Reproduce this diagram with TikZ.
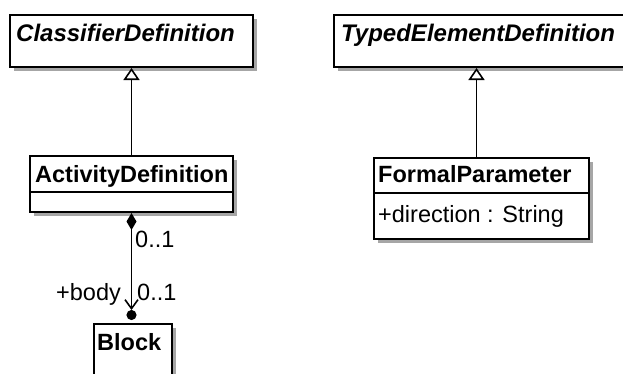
\documentclass[tikz,border=0pt]{standalone}
\usepackage{fontspec}
\setmainfont{Liberation Sans}
\usetikzlibrary{arrows.meta,shadows}
\tikzset{
  classbox/.style={draw, line width=2pt, fill=white, anchor=north west, inner sep=0pt,
    general shadow={shadow xshift=4pt, shadow yshift=-4pt, fill=black!35}},
  classname/.style={anchor=base west, inner sep=0pt, font=\fontsize{23.5}{25}\selectfont\bfseries},
  absname/.style={classname, font=\fontsize{24}{26}\selectfont\bfseries\itshape},
  attr/.style={anchor=base west, inner sep=0pt, font=\fontsize{23.5}{25}\selectfont},
  divider/.style={line width=2pt},
  gen/.style={line width=1.8pt, -{Triangle[open, length=12pt, width=16pt, line width=1.6pt]}},
  comp/.style={line width=1.8pt, {Diamond[length=17pt, width=10pt]}-{Straight Barb[length=9pt, width=13pt, line width=1.6pt] . Circle[length=10pt, sep=1pt]}}
}
\begin{document}
\begin{tikzpicture}[x=1pt, y=-1pt]
\useasboundingbox (0,0) rectangle (623,373);
\clip (0,0) rectangle (623,373);
\node[classbox, minimum width=243pt, minimum height=52pt] (cdbox) at (9,14) {};
\node[absname] (cdname) at (16,41) {ClassifierDefinition};
\node[classbox, minimum width=300pt, minimum height=52pt] (tedbox) at (333,14) {};
\node[absname] (tedname) at (341,41) {TypedElementDefinition};
%
\node[classbox, minimum width=203pt, minimum height=56pt] (adbox) at (29,155) {};
\node[classname] (adname) at (35,182) {ActivityDefinition};
\draw[divider] (29,192) -- (232,192);
\node[classbox, minimum width=215pt, minimum height=81pt] (fpbox) at (373,157) {};
\node[classname] (fpname) at (378,182) {FormalParameter};
\draw[divider] (373,193) -- (588,193);
\node[attr] (fpattr) at (378,222) {+direction : String};
\node[classbox, minimum width=78pt, minimum height=70pt] (blkbox) at (93,323) {};
\node[classname] (blkname) at (97,350) {Block};
%
\draw[gen] (adbox.north) -- (cdbox.south);
\draw[gen] ([xshift=-5pt]fpbox.north) -- ([xshift=-5pt]fpbox.north |- tedbox.south);
\draw[comp] (adbox.south) -- ([yshift=2pt]adbox.south |- blkbox.north);
\node[attr] (srcmult) at (135,247) {0..1};
\node[attr] (tgtrole) at (56,300) {+body};
\node[attr] (tgtmult) at (137,300) {0..1};
\end{tikzpicture}
\end{document}
